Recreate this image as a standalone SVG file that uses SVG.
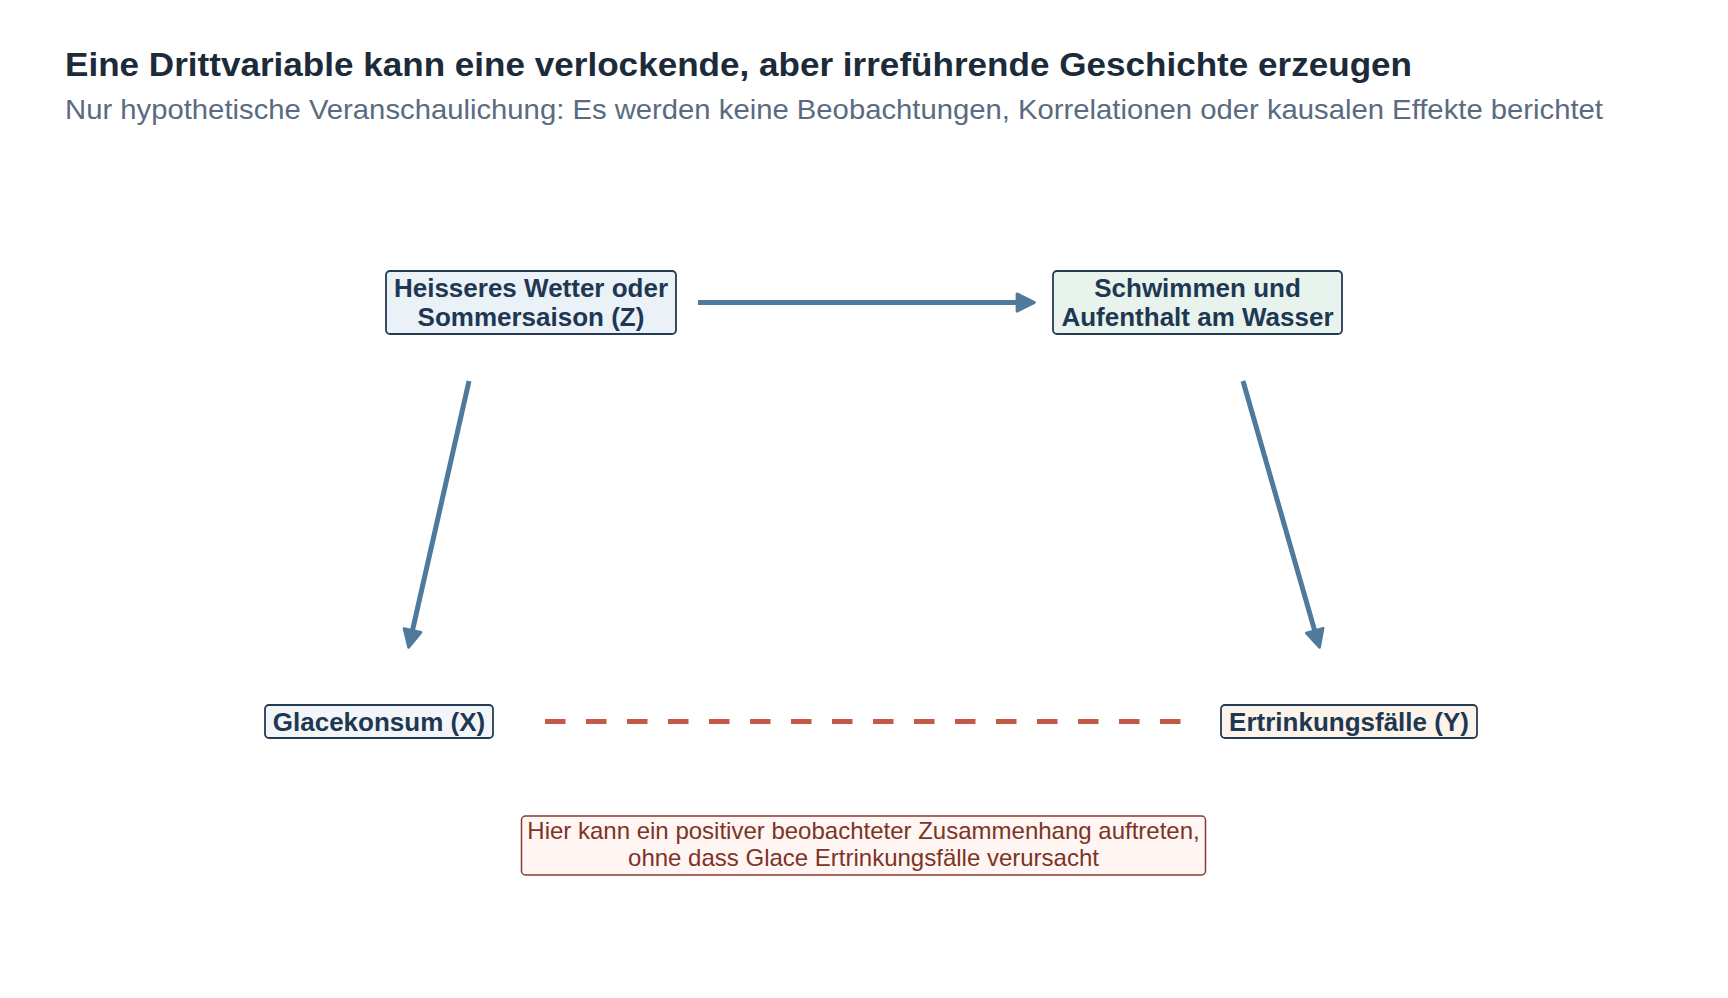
<svg xmlns="http://www.w3.org/2000/svg" width="1728" height="998" viewBox="0 0 1728 998">
<defs>
<style>
.title{font-family:"Liberation Sans",Arial,sans-serif;font-weight:bold;font-size:33px;fill:#1c2b3a}
.sub{font-family:"Liberation Sans",Arial,sans-serif;font-size:28px;fill:#5a6b7f}
.box{stroke:#243b53;stroke-width:1.8}
.lbl{font-family:"Liberation Sans",Arial,sans-serif;font-weight:bold;font-size:26px;fill:#1f3852;text-anchor:middle}
.note{font-family:"Liberation Sans",Arial,sans-serif;font-size:24px;fill:#7b3427;text-anchor:middle}
.arr{stroke:#4f7a9b;stroke-width:5;fill:none}
</style>
<marker id="ah" markerUnits="userSpaceOnUse" markerWidth="24" markerHeight="24" viewBox="-2 -11 22 22" refX="0" refY="0" orient="auto">
<path d="M0,-8 L16,0 L0,8 Z" fill="#4f7a9b" stroke="#4f7a9b" stroke-width="2.5" stroke-linejoin="round"/>
</marker>
</defs>
<rect width="1728" height="998" fill="#ffffff"/>
<text class="title" x="65" y="76" textLength="1347" lengthAdjust="spacingAndGlyphs">Eine Drittvariable kann eine verlockende, aber irreführende Geschichte erzeugen</text>
<text class="sub" x="65" y="119" textLength="1538" lengthAdjust="spacingAndGlyphs">Nur hypothetische Veranschaulichung: Es werden keine Beobachtungen, Korrelationen oder kausalen Effekte berichtet</text>
<g id="connectors">
<line class="arr" x1="698" y1="302.5" x2="1017" y2="302.5" marker-end="url(#ah)"/>
<line class="arr" x1="469" y1="381" x2="412.5" y2="630.4" marker-end="url(#ah)"/>
<line class="arr" x1="1243" y1="381" x2="1314.7" y2="630.6" marker-end="url(#ah)"/>
<line x1="545" y1="721.5" x2="1181" y2="721.5" stroke="#c25a47" stroke-width="5" stroke-dasharray="20.5 20.5"/>
</g>
<g id="node-z">
<rect class="box" x="386" y="271" width="290" height="63" rx="4" fill="#eaf1f7"/>
<text class="lbl" x="531" y="297">Heisseres Wetter oder</text>
<text class="lbl" x="531" y="326">Sommersaison (Z)</text>
</g>
<g id="node-w">
<rect class="box" x="1053" y="271" width="289" height="63" rx="4" fill="#e9f3ee"/>
<text class="lbl" x="1197.5" y="297">Schwimmen und</text>
<text class="lbl" x="1197.5" y="326">Aufenthalt am Wasser</text>
</g>
<g id="node-x">
<rect class="box" x="265" y="705" width="228" height="33" rx="4" fill="#f3f6f9"/>
<text class="lbl" x="379" y="731">Glacekonsum (X)</text>
</g>
<g id="node-y">
<rect class="box" x="1221" y="705" width="256" height="33" rx="4" fill="#fcf3ea"/>
<text class="lbl" x="1349" y="731">Ertrinkungsfälle (Y)</text>
</g>
<g id="note">
<rect x="521.5" y="816" width="684" height="59" rx="4" fill="#fff5f2" stroke="#8a3b2f" stroke-width="1.5"/>
<text class="note" x="863.5" y="839">Hier kann ein positiver beobachteter Zusammenhang auftreten,</text>
<text class="note" x="863.5" y="866">ohne dass Glace Ertrinkungsfälle verursacht</text>
</g>
</svg>
